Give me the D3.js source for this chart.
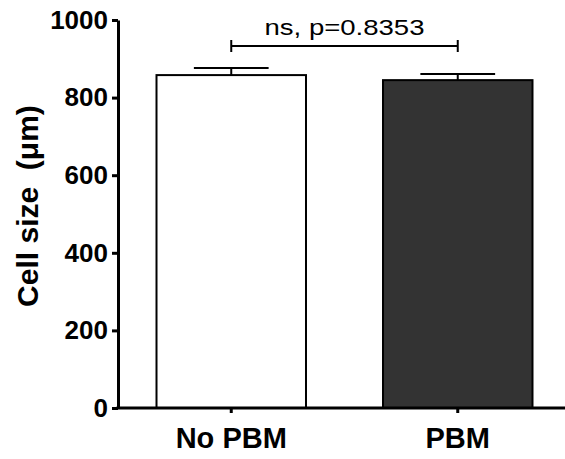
<!DOCTYPE html>
<html lang="en">
<head>
<meta charset="utf-8">
<title>Cell size</title>
<script src="https://d3js.org/d3.v7.min.js"></script>
<style>
  body { margin: 0; background: #fff; }
  svg text { font-family: "Liberation Sans", Arial, sans-serif; }
  .axis path, .axis line { stroke: #000; stroke-width: 3; }
  .axis text { font-weight: bold; fill: #000; }
</style>
</head>
<body>
<script>
// values
var groups = ["No PBM", "PBM"];
var means = [858, 845];
var sems = [18, 16];
var fills = ["#ffffff", "#333333"];
var yTicks = [0, 200, 400, 600, 800, 1000];
var pLabel = "ns, p=0.8353";

var w = 565, h = 459;

var svg = d3.select("body").append("svg")
  .attr("width", w)
  .attr("height", h);

var y = d3.scaleLinear().domain([0, 1000]).range([408, 20]);

var x = d3.scaleBand()
  .domain(groups)
  .range([118, 571])
  .paddingInner(0.34)
  .paddingOuter(0.17);

// bars
svg.selectAll("rect.bar")
  .data(groups)
  .enter().append("rect")
  .attr("class", "bar")
  .attr("x", function(d) { return x(d); })
  .attr("width", x.bandwidth())
  .attr("y", function(d, i) { return y(means[i]); })
  .attr("height", function(d, i) { return y(0) - y(means[i]); })
  .style("fill", function(d, i) { return fills[i]; })
  .style("stroke", "#000")
  .style("stroke-width", 2);

// error bars (upper only)
var err = svg.selectAll("g.err")
  .data(groups)
  .enter().append("g")
  .attr("class", "err")
  .style("stroke", "#000")
  .style("stroke-width", 2);

err.append("line")
  .attr("x1", function(d) { return x(d) + x.bandwidth() / 2; })
  .attr("x2", function(d) { return x(d) + x.bandwidth() / 2; })
  .attr("y1", function(d, i) { return y(means[i]); })
  .attr("y2", function(d, i) { return y(means[i] + sems[i]); });

err.append("line")
  .attr("x1", function(d) { return x(d) + x.bandwidth() / 4; })
  .attr("x2", function(d) { return x(d) + x.bandwidth() * 3 / 4; })
  .attr("y1", function(d, i) { return y(means[i] + sems[i]); })
  .attr("y2", function(d, i) { return y(means[i] + sems[i]); });

// axes
var yAxis = svg.append("g")
  .attr("class", "axis")
  .attr("transform", "translate(118,0)")
  .call(d3.axisLeft(y).tickValues(yTicks).tickFormat(d3.format("d"))
    .tickSize(6).tickSizeOuter(0).tickPadding(4));
yAxis.selectAll("text").style("font-size", "26px");

var xAxis = svg.append("g")
  .attr("class", "axis")
  .attr("transform", "translate(0,408)")
  .call(d3.axisBottom(x).tickSize(5).tickSizeOuter(0).tickPadding(14));
xAxis.selectAll("text").style("font-size", "29px");
xAxis.select(".domain").attr("d", "M116.5,0H571");

// y title
svg.append("text")
  .attr("transform", "translate(38,206) rotate(-90)")
  .attr("text-anchor", "middle")
  .style("font-size", "30px")
  .style("font-weight", "bold")
  .text("Cell size\u00a0\u00a0(\u03bcm)");

// significance bracket
var c0 = x(groups[0]) + x.bandwidth() / 2;
var c1 = x(groups[1]) + x.bandwidth() / 2;
var br = svg.append("g").style("stroke", "#000").style("stroke-width", 2);
br.append("line").attr("x1", c0).attr("x2", c1).attr("y1", 46).attr("y2", 46);
br.append("line").attr("x1", c0).attr("x2", c0).attr("y1", 40).attr("y2", 52);
br.append("line").attr("x1", c1).attr("x2", c1).attr("y1", 40).attr("y2", 52);

svg.append("text")
  .attr("x", (c0 + c1) / 2 - 80)
  .attr("y", 35)
  .attr("textLength", 160)
  .attr("lengthAdjust", "spacingAndGlyphs")
  .style("font-size", "22px")
  .text(pLabel);
</script>
</body>
</html>
